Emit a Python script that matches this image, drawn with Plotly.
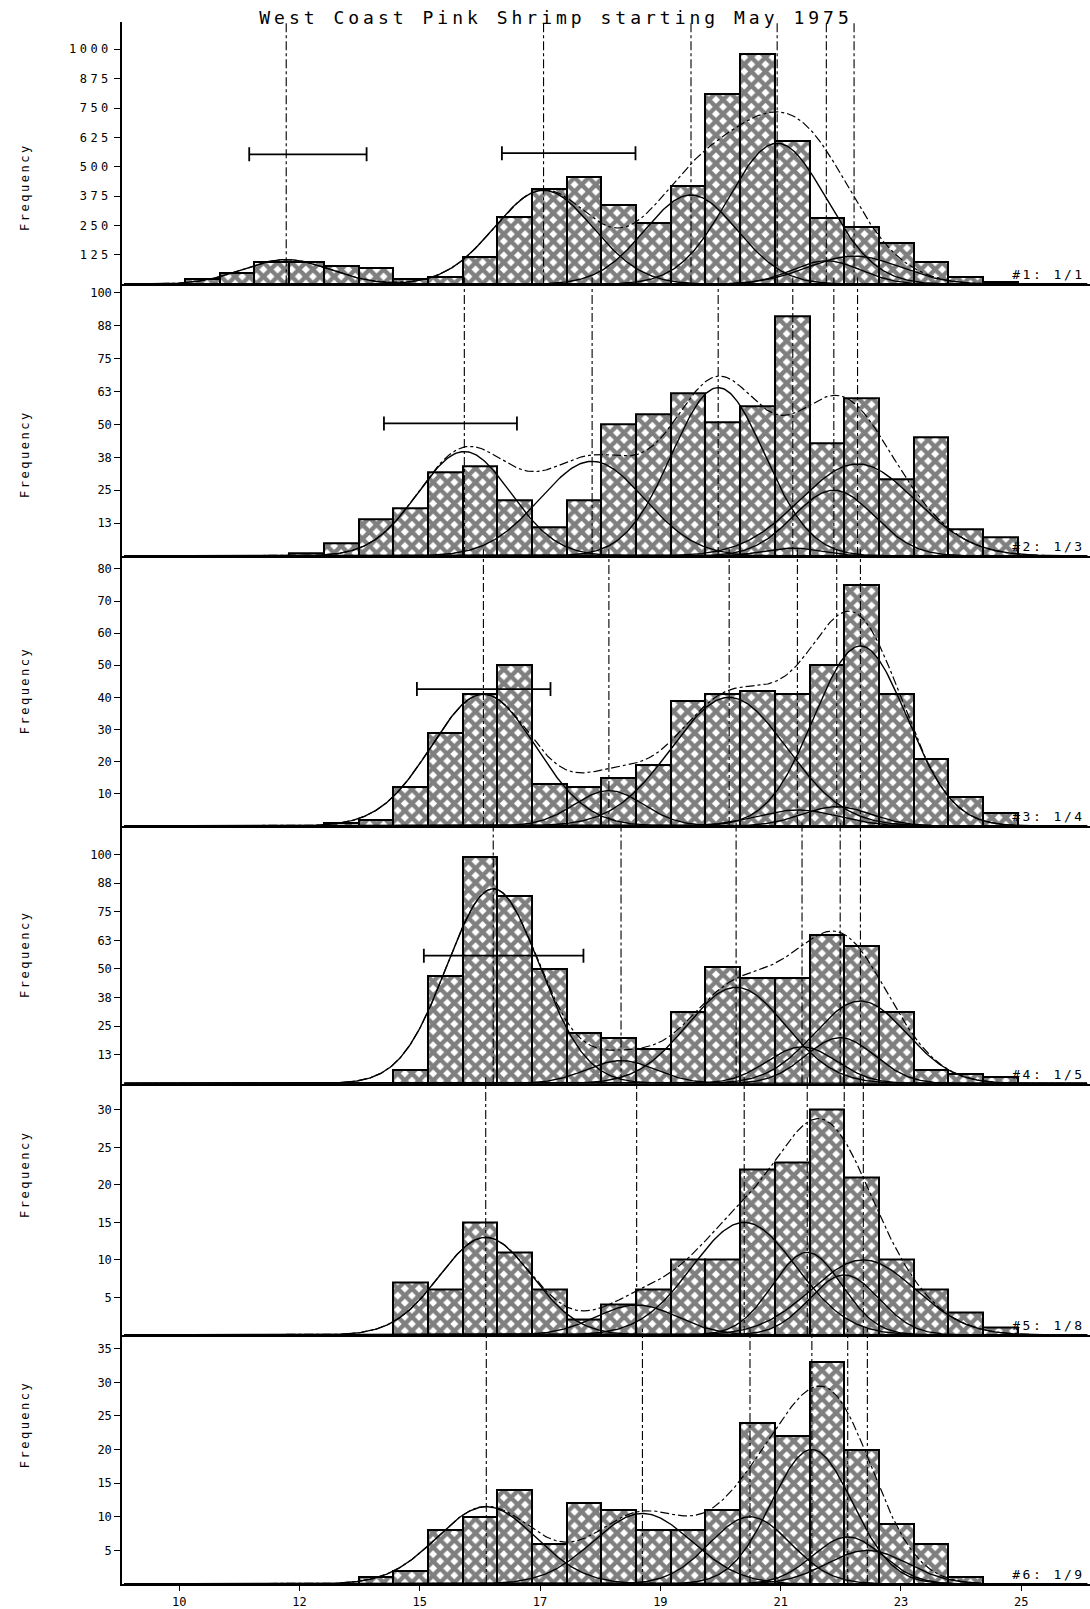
import numpy as np
import plotly.graph_objects as go

# ---------------------------------------------------------------- data ----
CLASS_WIDTH = 0.6

# left edge of the first size class for each sample
first_class = [10.5, 12.3, 12.9, 14.1, 14.1, 13.5]

# frequency per size class, one list per sample
freq_1 = [22, 48, 96, 96, 78, 68, 21, 33, 115, 288, 404, 458, 336, 262,
          418, 809, 978, 611, 281, 242, 174, 96, 33, 8]
freq_2 = [1, 5, 14, 18, 32, 34, 21, 11, 21, 50, 54, 62, 51, 57, 91, 43,
          60, 29, 45, 10, 7]
freq_3 = [1, 2, 12, 29, 41, 50, 13, 12, 15, 19, 39, 41, 42, 41, 50, 75,
          41, 21, 9, 4]
freq_4 = [6, 47, 99, 82, 50, 22, 20, 15, 31, 51, 46, 46, 65, 60, 31, 6, 4, 3]
freq_5 = [7, 6, 15, 11, 6, 2, 4, 6, 10, 10, 22, 23, 30, 21, 10, 6, 3, 1]
freq_6 = [1, 2, 8, 10, 14, 6, 12, 11, 8, 8, 11, 24, 22, 33, 20, 9, 6, 1]

sample_tags = ["#1: 1/1", "#2: 1/3", "#3: 1/4", "#4: 1/5", "#5: 1/8", "#6: 1/9"]

# fitted normal components: means, peak heights, standard deviations
comp_mean_1 = [12.25, 16.70, 19.25, 20.74, 21.59, 22.07]
comp_peak_1 = [105, 400, 380, 600, 100, 120]
comp_sd_1 = [0.75, 0.85, 0.80, 0.85, 0.60, 0.80]

comp_mean_2 = [15.33, 17.54, 19.72, 21.01, 21.72, 22.13]
comp_peak_2 = [39.7, 36, 64, 3, 25, 35]
comp_sd_2 = [0.80, 0.90, 0.80, 0.50, 0.70, 1.00]

comp_mean_3 = [15.66, 17.83, 19.91, 21.09, 21.77, 22.18]
comp_peak_3 = [41, 11, 40, 5, 6, 56]
comp_sd_3 = [0.90, 0.60, 1.00, 0.70, 0.60, 0.80]

comp_mean_4 = [15.83, 18.04, 20.03, 21.17, 21.83, 22.18]
comp_peak_4 = [85, 10, 42, 16, 20, 36]
comp_sd_4 = [0.80, 0.60, 0.85, 0.60, 0.60, 0.80]

comp_mean_5 = [15.70, 18.31, 20.17, 21.26, 21.90, 22.23]
comp_peak_5 = [13, 4, 15, 11, 8, 10]
comp_sd_5 = [0.80, 0.70, 0.90, 0.60, 0.60, 0.90]

comp_mean_6 = [15.71, 18.41, 20.27, 21.34, 21.96, 22.30]
comp_peak_6 = [11.5, 10.5, 10, 20, 7, 5]
comp_sd_6 = [0.85, 0.85, 0.70, 0.70, 0.60, 0.70]

# horizontal range bars: sample, level, low end, high end
range_sample = [1, 1, 2, 3, 4]
range_level = [553, 558, 50.4, 42.6, 55.8]
range_low = [11.61, 15.98, 13.94, 14.51, 14.63]
range_high = [13.64, 18.29, 16.24, 16.82, 17.39]

# y-axis ticks per panel
ytick_vals_1 = [125, 250, 375, 500, 625, 750, 875, 1000]
ytick_text_1 = ["125", "250", "375", "500", "625", "750", "875", "1000"]
ytick_vals_2 = [12.5, 25, 37.5, 50, 62.5, 75, 87.5, 100]
ytick_text_2 = ["13", "25", "38", "50", "63", "75", "88", "100"]
ytick_vals_3 = [10, 20, 30, 40, 50, 60, 70, 80]
ytick_text_3 = ["10", "20", "30", "40", "50", "60", "70", "80"]
ytick_vals_4 = [12.5, 25, 37.5, 50, 62.5, 75, 87.5, 100]
ytick_text_4 = ["13", "25", "38", "50", "63", "75", "88", "100"]
ytick_vals_5 = [5, 10, 15, 20, 25, 30]
ytick_text_5 = ["5", "10", "15", "20", "25", "30"]
ytick_vals_6 = [5, 10, 15, 20, 25, 30, 35]
ytick_text_6 = ["5", "10", "15", "20", "25", "30", "35"]

xtick_vals = [10.4, 12.48, 14.56, 16.64, 18.72, 20.8, 22.88, 24.96]
xtick_text = ["10", "12", "15", "17", "19", "21", "23", "25"]

# ------------------------------------------------------------- layout ----
W, H = 1090, 1609
LEFT_PX = 122
X_RANGE = [9.41, 26.15]
panel_px = [(22, 284.3), (284.3, 556), (556, 826), (826, 1083.5),
            (1083.5, 1335), (1335, 1584)]
y_top = [1116, 103.3, 84.0, 112.4, 33.5, 37.05]

freqs = [freq_1, freq_2, freq_3, freq_4, freq_5, freq_6]
means = [comp_mean_1, comp_mean_2, comp_mean_3, comp_mean_4, comp_mean_5, comp_mean_6]
peaks = [comp_peak_1, comp_peak_2, comp_peak_3, comp_peak_4, comp_peak_5, comp_peak_6]
sds = [comp_sd_1, comp_sd_2, comp_sd_3, comp_sd_4, comp_sd_5, comp_sd_6]
ytv = [ytick_vals_1, ytick_vals_2, ytick_vals_3, ytick_vals_4, ytick_vals_5, ytick_vals_6]
ytt = [ytick_text_1, ytick_text_2, ytick_text_3, ytick_text_4, ytick_text_5, ytick_text_6]

MONO = "DejaVu Sans Mono"
INK = "black"

fig = go.Figure()
layout = dict(
    width=W, height=H,
    margin=dict(l=0, r=0, t=0, b=0),
    paper_bgcolor="white", plot_bgcolor="white",
    showlegend=False,
    bargap=0,
    font=dict(family=MONO, color=INK, size=12),
    title=dict(text="West Coast Pink Shrimp starting May 1975",
               x=556 / W, y=1 - 18 / H, xanchor="center", yanchor="middle",
               font=dict(family=MONO, size=18, color=INK)),
)

grid = np.linspace(9.45, 26.1, 700)
annotations = []
shapes = []

for i in range(6):
    n = i + 1
    sfx = "" if n == 1 else str(n)
    xa, ya = "x" + sfx, "y" + sfx
    top_px, bot_px = panel_px[i]
    ydom = [1 - bot_px / H, 1 - top_px / H]
    last = n == 6

    layout["xaxis" + sfx] = dict(
        domain=[LEFT_PX / W, 1], range=X_RANGE, anchor=ya,
        showline=True, linecolor=INK, linewidth=2.2,
        showgrid=False, zeroline=False,
        ticks="outside" if last else "", ticklen=5, tickcolor=INK,
        tickvals=xtick_vals, ticktext=xtick_text,
        showticklabels=last, tickfont=dict(family=MONO, size=12, color=INK),
        matches=None if n == 1 else "x",
    )
    layout["yaxis" + sfx] = dict(
        domain=ydom, range=[0, y_top[i]], anchor=xa,
        showline=True, linecolor=INK, linewidth=1.5,
        showgrid=False, zeroline=False,
        ticks="outside", ticklen=6, tickcolor=INK, tickwidth=1.3,
        tickvals=ytv[i], ticktext=ytt[i],
        tickfont=dict(family=MONO, size=12, color=INK),
    )

    centers = [first_class[i] + CLASS_WIDTH * (k + 0.5) for k in range(len(freqs[i]))]
    fig.add_trace(go.Bar(
        x=centers, y=freqs[i], width=CLASS_WIDTH, xaxis=xa, yaxis=ya,
        marker=dict(color="white", line=dict(color=INK, width=2),
                    pattern=dict(shape="x", fgcolor=INK, bgcolor="white",
                                 size=10, solidity=0.68)),
        hoverinfo="skip",
    ))

    total = np.zeros_like(grid)
    for m, p, s in zip(means[i], peaks[i], sds[i]):
        comp = p * np.exp(-0.5 * ((grid - m) / s) ** 2)
        total = total + comp
        fig.add_trace(go.Scatter(x=grid, y=comp, mode="lines", xaxis=xa, yaxis=ya,
                                 line=dict(color=INK, width=1.4), hoverinfo="skip"))
    fig.add_trace(go.Scatter(x=grid, y=total, mode="lines", xaxis=xa, yaxis=ya,
                             line=dict(color=INK, width=1.2, dash="dashdot"),
                             hoverinfo="skip"))

    for m in means[i]:
        shapes.append(dict(type="line", xref=xa, yref=ya + " domain",
                           x0=m, x1=m, y0=0, y1=1.0 if n == 1 else 1.025,
                           line=dict(color=INK, width=1.1, dash="dashdot")))

    annotations.append(dict(text="Frequency", xref="paper", yref="paper",
                            x=16 / W, y=1 - (top_px + bot_px) / 2 / H,
                            textangle=-90, showarrow=False,
                            font=dict(family=MONO, size=12, color=INK)))
    annotations.append(dict(text=sample_tags[i], xref="paper", yref=ya + " domain",
                            x=1078 / W, y=0, xanchor="right", yanchor="bottom",
                            showarrow=False,
                            font=dict(family=MONO, size=13, color=INK)))

# horizontal range bars with end caps
for smp, lev, lo, hi in zip(range_sample, range_level, range_low, range_high):
    sfx = "" if smp == 1 else str(smp)
    fig.add_trace(go.Scatter(
        x=[lo, hi], y=[lev, lev], mode="lines+markers",
        xaxis="x" + sfx, yaxis="y" + sfx,
        line=dict(color=INK, width=1.8),
        marker=dict(symbol="line-ns", size=10, line=dict(color=INK, width=1.8)),
        hoverinfo="skip",
    ))

layout["annotations"] = annotations
layout["shapes"] = shapes
fig.update_layout(**layout)

# plotter-style wide lettering
letter_css = (".js-plotly-plot .gtitle{letter-spacing:4px}"
              ".js-plotly-plot .ytick text{letter-spacing:3.5px}"
              ".js-plotly-plot .xtick text{letter-spacing:3px}"
              ".js-plotly-plot .annotation-text{letter-spacing:2.5px}")
post = ("var s=document.createElement('style');s.textContent='" + letter_css +
        "';document.head.appendChild(s);")

fig.write_html("out.html", post_script=post)
